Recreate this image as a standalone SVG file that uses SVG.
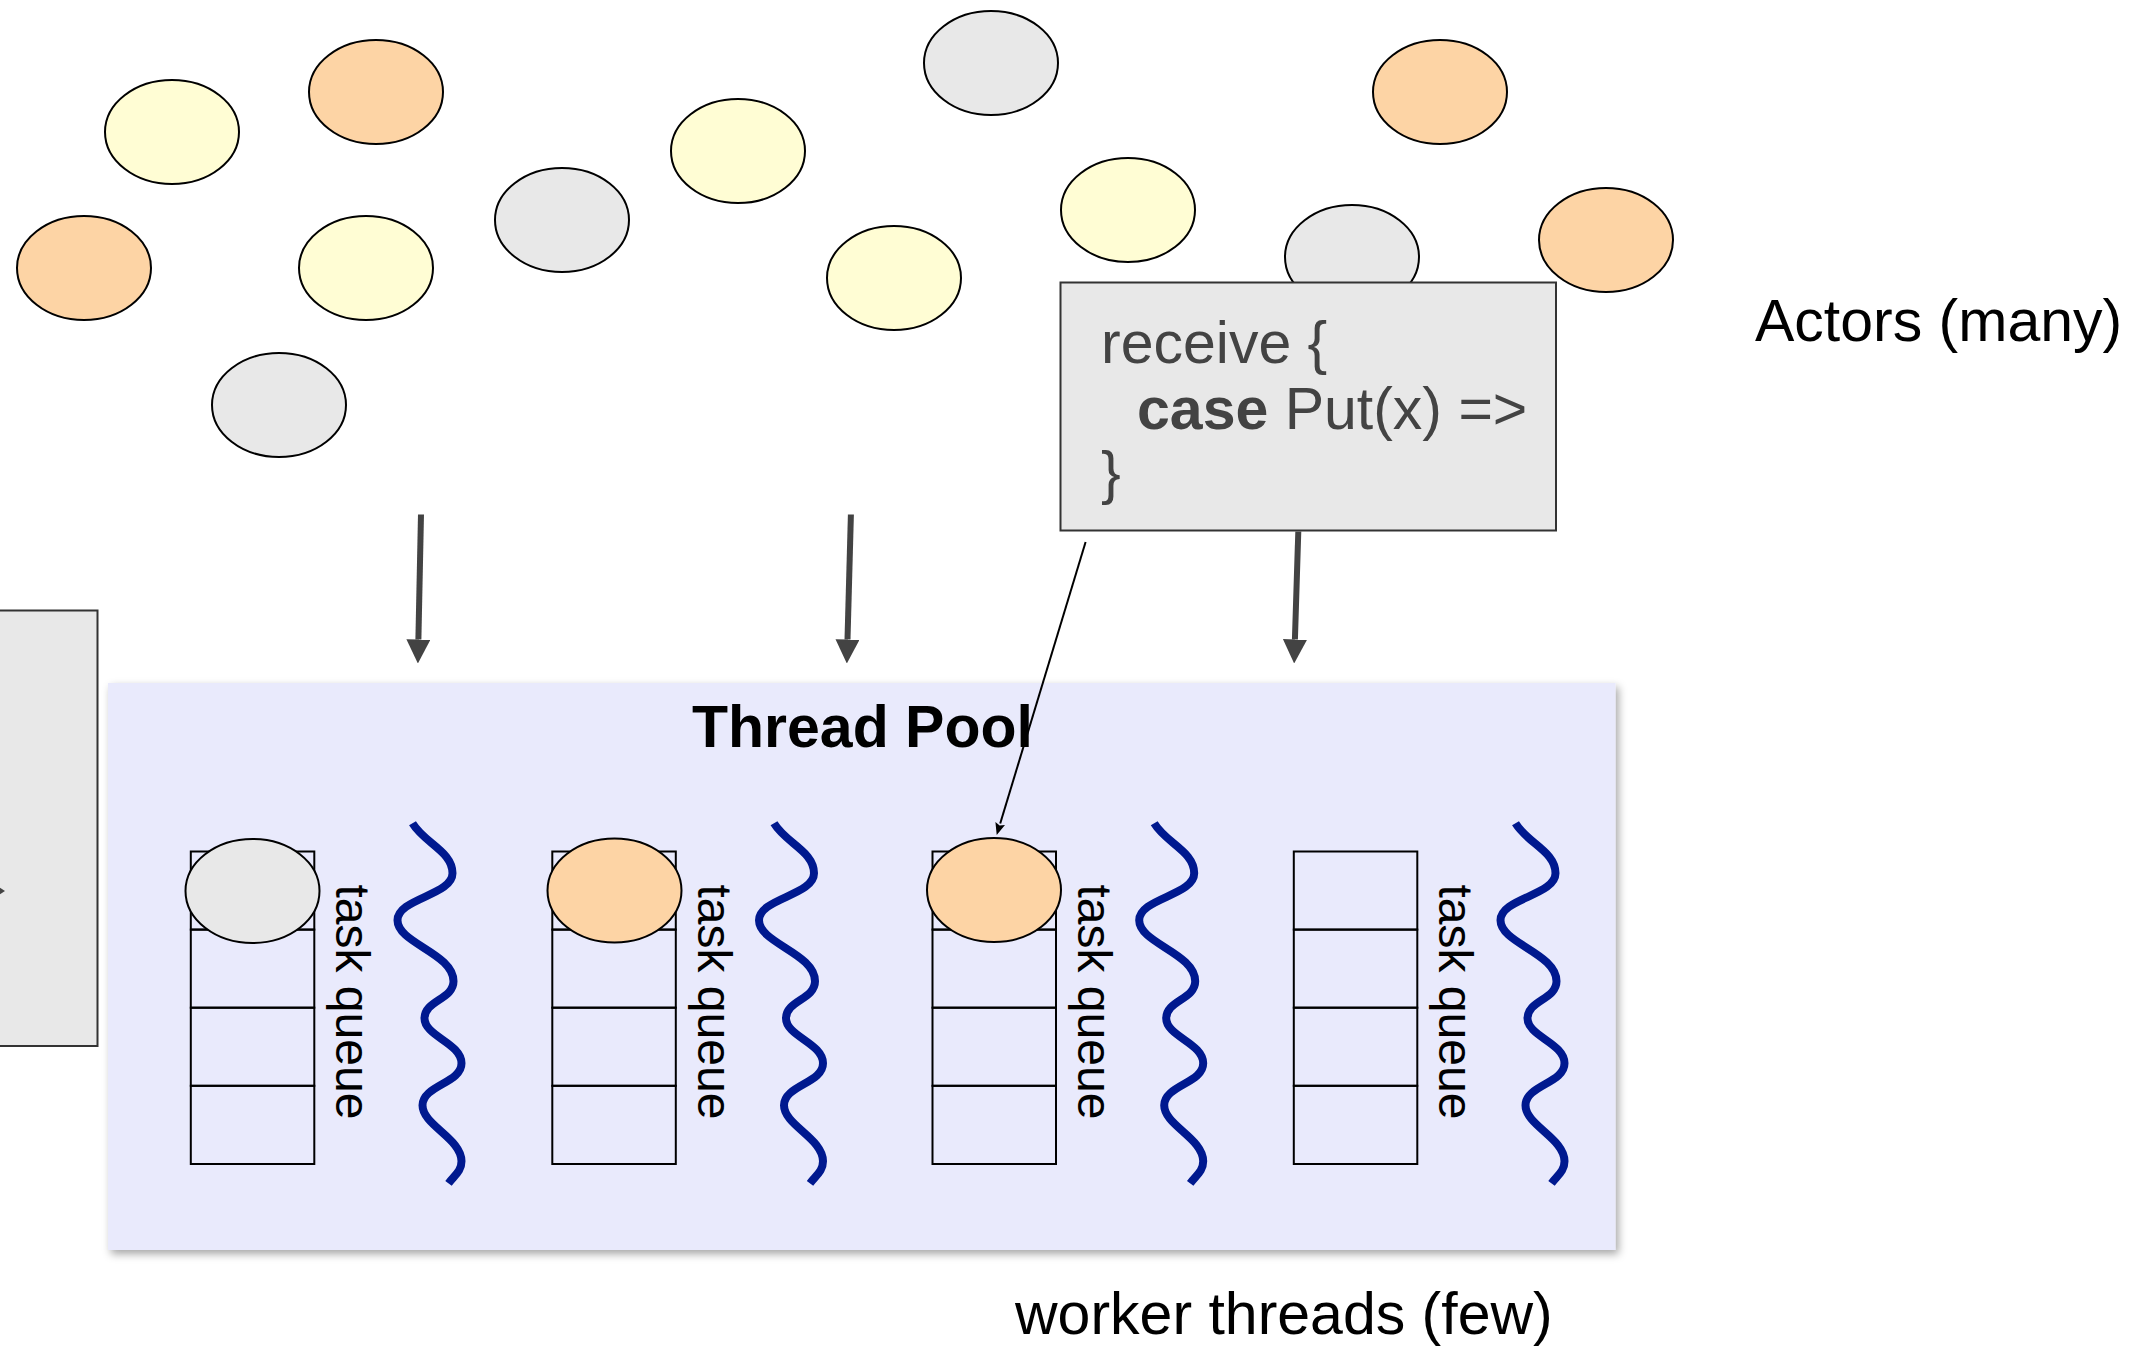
<svg xmlns="http://www.w3.org/2000/svg" xmlns:xlink="http://www.w3.org/1999/xlink" width="2152" height="1348" viewBox="0 0 2152 1348">
  <style>
    .actor { stroke: #000; stroke-width: 2; }
    .yellow { fill: #fffdd4; }
    .orange { fill: #fdd4a5; }
    .gray { fill: #e8e8e8; }
    .box { fill: #e8e8e8; stroke: #333; stroke-width: 2; }
    .cell { fill: none; stroke: #000; stroke-width: 2; }
    .label { font-family: "Liberation Sans", Arial, sans-serif; font-size: 59px; fill: #000; }
    .code { font-family: "Liberation Sans", Arial, sans-serif; font-size: 59px; fill: #434343; }
    .qlabel { font-family: "Liberation Sans", Arial, sans-serif; font-size: 48px; fill: #000; }
    .thread { fill: none; stroke: #00198f; stroke-width: 8; stroke-linecap: butt; }
    .flow { stroke: #434343; stroke-width: 6; fill: none; }
    .thin { stroke: #000; stroke-width: 2; fill: none; }
  </style>
  <defs>
    <marker id="head" viewBox="0 0 24 24" refX="0" refY="12" markerWidth="24" markerHeight="24" markerUnits="userSpaceOnUse" orient="auto">
      <path d="M0,0 L24,12 L0,24 z" fill="#434343"/>
    </marker>
    <marker id="headSmall" viewBox="0 0 12 10" refX="0" refY="5" markerWidth="12" markerHeight="10" markerUnits="userSpaceOnUse" orient="auto">
      <path d="M0,0 L12,5 L0,10 L2,5 z" fill="#000"/>
    </marker>
    <filter id="shadow" x="-5%" y="-5%" width="110%" height="115%">
      <feDropShadow dx="3" dy="4" stdDeviation="4" flood-color="#000" flood-opacity="0.35"/>
    </filter>
    <!-- one worker thread squiggle, origin at its top end -->
    <path id="wave" d="M0,0 C12,20 40,28 40,50 C40,72 -15,75 -15,97 C-15,120 41,130 41,158 C41,176 12,177 12,195 C12,213 49,220 49,240 C49,260 10,262 10,282 C10,302 49,315 49,338 C49,348 42,352 36,360"/>
  </defs>

  <!-- actors -->
  <g id="actors">
    <ellipse id="actor-1" class="actor yellow" cx="172" cy="132" rx="67" ry="52"/>
    <ellipse id="actor-2" class="actor orange" cx="376" cy="92" rx="67" ry="52"/>
    <ellipse id="actor-3" class="actor orange" cx="84" cy="268" rx="67" ry="52"/>
    <ellipse id="actor-4" class="actor yellow" cx="366" cy="268" rx="67" ry="52"/>
    <ellipse id="actor-5" class="actor gray" cx="279" cy="405" rx="67" ry="52"/>
    <ellipse id="actor-6" class="actor gray" cx="562" cy="220" rx="67" ry="52"/>
    <ellipse id="actor-7" class="actor yellow" cx="738" cy="151" rx="67" ry="52"/>
    <ellipse id="actor-8" class="actor gray" cx="991" cy="63" rx="67" ry="52"/>
    <ellipse id="actor-9" class="actor yellow" cx="894" cy="278" rx="67" ry="52"/>
    <ellipse id="actor-10" class="actor yellow" cx="1128" cy="210" rx="67" ry="52"/>
    <ellipse id="actor-11" class="actor gray" cx="1352" cy="257" rx="67" ry="52"/>
    <ellipse id="actor-12" class="actor orange" cx="1440" cy="92" rx="67" ry="52"/>
    <ellipse id="actor-13" class="actor orange" cx="1606" cy="240" rx="67" ry="52"/>
  </g>

  <!-- message handler of an actor -->
  <g id="receive-box">
    <rect class="box" x="1060.5" y="282.5" width="495.5" height="248"/>
    <text class="code" x="1101" y="363">receive {</text>
    <text class="code" x="1137" y="429"><tspan font-weight="bold">case</tspan> Put(x) =&gt;</text>
    <text class="code" x="1101" y="493">}</text>
  </g>

  <!-- box cut off at the left edge -->
  <g id="side-box">
    <rect class="box" x="-10" y="610.5" width="107.5" height="435.5"/>
    <path d="M-20,875 L5,891 L-20,907 z" fill="#434343"/>
  </g>

  <!-- thread pool -->
  <g id="thread-pool">
    <rect x="108" y="683" width="1507.5" height="567" fill="#e9eafc" filter="url(#shadow)"/>
    <text class="label" x="692" y="747" font-weight="bold">Thread Pool</text>
  </g>

  <g id="queue-1">
    <rect class="cell" x="190.8" y="851.5" width="123.5" height="78.1"/>
    <rect class="cell" x="190.8" y="929.6" width="123.5" height="78.1"/>
    <rect class="cell" x="190.8" y="1007.7" width="123.5" height="78.1"/>
    <rect class="cell" x="190.8" y="1085.8" width="123.5" height="78.2"/>
    <ellipse class="actor gray" cx="252.5" cy="891" rx="67" ry="52"/>
    <text class="qlabel" transform="translate(336 884.5) rotate(90)">task queue</text>
  </g>
  <g id="queue-2">
    <rect class="cell" x="552.3" y="851.5" width="123.5" height="78.1"/>
    <rect class="cell" x="552.3" y="929.6" width="123.5" height="78.1"/>
    <rect class="cell" x="552.3" y="1007.7" width="123.5" height="78.1"/>
    <rect class="cell" x="552.3" y="1085.8" width="123.5" height="78.2"/>
    <ellipse class="actor orange" cx="614.5" cy="890.5" rx="67" ry="52"/>
    <text class="qlabel" transform="translate(697.5 884.5) rotate(90)">task queue</text>
  </g>
  <g id="queue-3">
    <rect class="cell" x="932.5" y="851.5" width="123.5" height="78.1"/>
    <rect class="cell" x="932.5" y="929.6" width="123.5" height="78.1"/>
    <rect class="cell" x="932.5" y="1007.7" width="123.5" height="78.1"/>
    <rect class="cell" x="932.5" y="1085.8" width="123.5" height="78.2"/>
    <ellipse class="actor orange" cx="994" cy="890" rx="67" ry="52"/>
    <text class="qlabel" transform="translate(1078 884.5) rotate(90)">task queue</text>
  </g>
  <g id="queue-4">
    <rect class="cell" x="1293.8" y="851.5" width="123.5" height="78.1"/>
    <rect class="cell" x="1293.8" y="929.6" width="123.5" height="78.1"/>
    <rect class="cell" x="1293.8" y="1007.7" width="123.5" height="78.1"/>
    <rect class="cell" x="1293.8" y="1085.8" width="123.5" height="78.2"/>
    <text class="qlabel" transform="translate(1439.3 884.5) rotate(90)">task queue</text>
  </g>

  <!-- worker threads -->
  <g id="threads">
    <use xlink:href="#wave" class="thread" x="412.5" y="823.3"/>
    <use xlink:href="#wave" class="thread" x="774" y="823.3"/>
    <use xlink:href="#wave" class="thread" x="1154.2" y="823.3"/>
    <use xlink:href="#wave" class="thread" x="1515.5" y="823.3"/>
  </g>

  <!-- captions -->
  <g id="captions">
    <text class="label" x="1755" y="341">Actors (many)</text>
    <text class="label" x="1015" y="1334">worker threads (few)</text>
  </g>

  <!-- connectors -->
  <g id="connectors">
    <line class="flow" x1="421" y1="514.5" x2="418.4" y2="639.5" marker-end="url(#head)"/>
    <line class="flow" x1="850.9" y1="514.5" x2="847.5" y2="639.5" marker-end="url(#head)"/>
    <line class="flow" x1="1298.3" y1="531.5" x2="1294.9" y2="639.5" marker-end="url(#head)"/>
    <line class="thin" x1="1085.6" y1="542" x2="1000.2" y2="823.5" marker-end="url(#headSmall)"/>
  </g>
</svg>
